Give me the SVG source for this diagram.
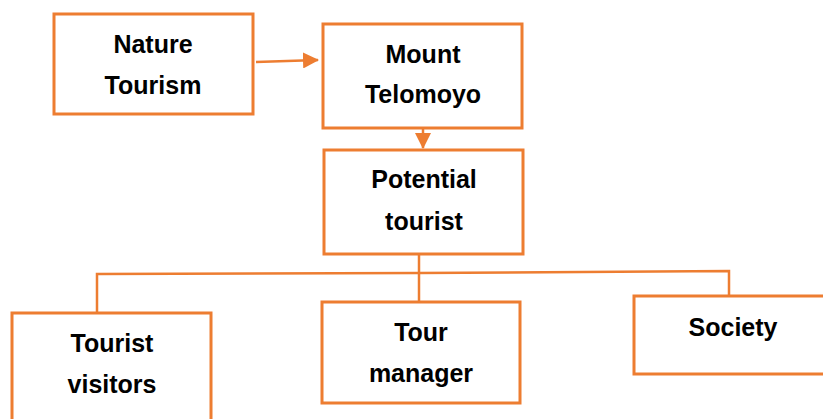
<svg xmlns="http://www.w3.org/2000/svg" width="823" height="419" viewBox="0 0 823 419">
<style>
.box{fill:#fff;stroke:#ED7D31;stroke-width:3}
.lbl{font-family:"Liberation Sans",Arial,sans-serif;font-weight:bold;font-size:25px;fill:#000;text-anchor:middle}
.con{fill:none;stroke:#ED7D31;stroke-width:2.5}
</style>
<defs>
<marker id="ah2" markerWidth="16" markerHeight="16" refX="15" refY="8" orient="auto" markerUnits="userSpaceOnUse" viewBox="0 0 16 16">
<path d="M0,0 L16,8 L0,16 z" fill="#ED7D31"/>
</marker>
</defs>
<g id="connectors">
<line class="con" x1="256" y1="62" x2="318" y2="60" marker-end="url(#ah2)"/>
<line class="con" x1="423" y1="128" x2="423" y2="148" marker-end="url(#ah2)"/>
<polyline class="con" points="419,254 419,302"/>
<polyline class="con" points="97,313 97,274 419,273 729,271 729,296"/>
</g>
<g id="nature-tourism">
<rect class="box" x="54" y="14" width="199" height="100"/>
<text class="lbl" x="153" y="53">Nature</text>
<text class="lbl" x="153" y="94">Tourism</text>
</g>
<g id="mount-telomoyo">
<rect class="box" x="323" y="24" width="199" height="104"/>
<text class="lbl" x="423" y="63">Mount</text>
<text class="lbl" x="423" y="103">Telomoyo</text>
</g>
<g id="potential-tourist">
<rect class="box" x="324" y="150" width="199" height="104"/>
<text class="lbl" x="424" y="188">Potential</text>
<text class="lbl" x="424" y="230">tourist</text>
</g>
<g id="tourist-visitors">
<rect class="box" x="12" y="313" width="199" height="120"/>
<text class="lbl" x="112" y="352">Tourist</text>
<text class="lbl" x="112" y="393">visitors</text>
</g>
<g id="tour-manager">
<rect class="box" x="322" y="302" width="198" height="101"/>
<text class="lbl" x="421" y="341">Tour</text>
<text class="lbl" x="421" y="382">manager</text>
</g>
<g id="society">
<rect class="box" x="634" y="296" width="210" height="78"/>
<text class="lbl" x="733" y="336">Society</text>
</g>
</svg>
